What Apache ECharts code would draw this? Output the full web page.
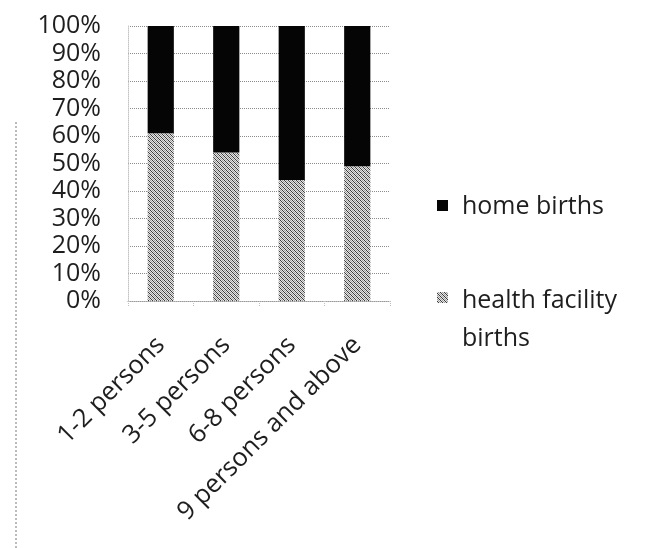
<!DOCTYPE html>
<html>
<head>
<meta charset="utf-8">
<script src="https://cdn.jsdelivr.net/npm/echarts@6/dist/echarts.min.js"></script>
<style>
  html, body { margin: 0; padding: 0; background: #fff; }
  #chart { width: 650px; height: 548px; }
</style>
</head>
<body>
<div id="chart"></div>
<script>
// Household size groups
const categories = ['1-2 persons', '3-5 persons', '6-8 persons', '9 persons and above'];
// Share of births by place (%)
const healthFacilityBirths = [61, 54, 44, 49];
const homeBirths = [39, 46, 56, 51];
// Series names, in legend order
const seriesNames = ['home births', 'health facility births'];
// Value axis
const yMin = 0;
const yMax = 100;
const yStep = 10;

// Grey diagonal hatch used for the facility-births bars
function hatchPattern() {
  const c = document.createElement('canvas');
  c.width = 4; c.height = 4;
  const ctx = c.getContext('2d');
  ctx.fillStyle = '#e4e4e4';
  ctx.fillRect(0, 0, 4, 4);
  for (let i = 0; i < 4; i++) {
    ctx.fillStyle = '#3c3c3c';
    ctx.fillRect(i, i, 1, 1);
    ctx.fillStyle = '#a0a0a0';
    ctx.fillRect((i + 2) % 4, i, 1, 1);
  }
  return { image: c, repeat: 'repeat' };
}

const hatch = hatchPattern();
const homeColor = '#050505';
const font = '"Open Sans", "Liberation Sans", sans-serif';
const textColor = '#1e1e1e';
const chart = echarts.init(document.getElementById('chart'), null, { renderer: 'canvas' });

// Legend drawn as graphics so the wrapped label keeps its swatch beside the first line
const legendGraphics = [
  { type: 'rect', shape: { x: 437, y: 200, width: 11, height: 11 }, style: { fill: homeColor } },
  {
    type: 'text', x: 462, y: 207,
    style: { text: seriesNames[0], font: '25px ' + font, fill: textColor, verticalAlign: 'middle' }
  },
  { type: 'rect', shape: { x: 437, y: 292, width: 11, height: 11 }, style: { fill: hatch } },
  {
    type: 'text', x: 462, y: 282,
    style: {
      text: 'health facility\nbirths', font: '25px ' + font, lineHeight: 38,
      fill: textColor, verticalAlign: 'top'
    }
  }
];

chart.setOption({
  backgroundColor: '#ffffff',
  animation: false,
  grid: { left: 128, right: 260, top: 26, bottom: 247 },
  xAxis: {
    type: 'category',
    data: categories,
    axisLine: { show: true, lineStyle: { color: '#9a9a9a', type: 'dotted', width: 1 } },
    axisTick: { show: true, length: 6, lineStyle: { color: '#c0c0c0', type: 'dotted' } },
    axisLabel: {
      rotate: 45, margin: 40, interval: 0,
      fontFamily: font, fontSize: 25.5, color: textColor
    }
  },
  yAxis: {
    type: 'value',
    min: yMin, max: yMax, interval: yStep,
    axisLine: { show: true, lineStyle: { color: '#c4c4c4', type: 'dotted' } },
    axisTick: { show: false },
    splitLine: { show: true, lineStyle: { color: '#8c8c8c', type: 'dotted', width: 1 } },
    axisLabel: {
      formatter: '{value}%', margin: 27,
      fontFamily: font, fontSize: 25, color: textColor
    }
  },
  graphic: [
    {
      type: 'line', silent: true,
      shape: { x1: 16, y1: 122, x2: 16, y2: 548 },
      style: { stroke: '#7a7a7a', lineWidth: 1, lineDash: [2, 2] }
    },
    ...legendGraphics
  ],
  series: [
    {
      name: seriesNames[1],
      type: 'bar', stack: 'births',
      data: healthFacilityBirths,
      barWidth: '40%',
      itemStyle: { color: hatch }
    },
    {
      name: seriesNames[0],
      type: 'bar', stack: 'births',
      data: homeBirths,
      barWidth: '40%',
      itemStyle: { color: homeColor }
    }
  ]
});
</script>
</body>
</html>
